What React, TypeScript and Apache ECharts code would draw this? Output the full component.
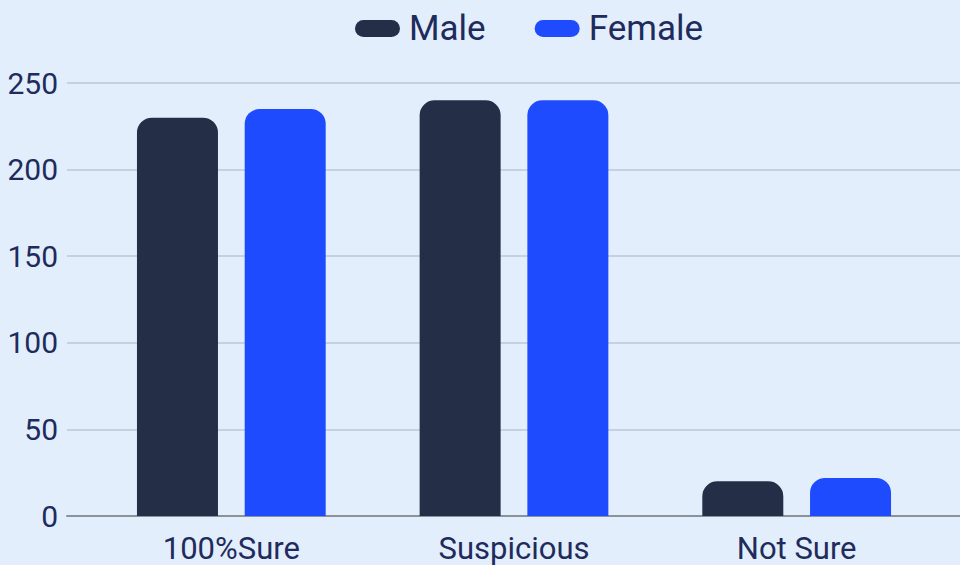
import React, { useEffect, useRef } from "react";
import * as echarts from "echarts";

const categories = ["100%Sure", "Suspicious", "Not Sure"];
const maleValues = [230, 240, 20];
const femaleValues = [235, 240, 22];
const yTicks = [0, 50, 100, 150, 200, 250];

const TEXT = "#202b5c";
const FONT = "Roboto";

export default function App() {
  const ref = useRef<HTMLDivElement>(null);
  useEffect(() => {
    if (!ref.current) return;
    const chart = echarts.init(ref.current, null, { renderer: "svg" });
    const pill = "path://M8.5,0 H36.5 A8.5,8.5 0 0 1 36.5,17 H8.5 A8.5,8.5 0 0 1 8.5,0 Z";
    chart.setOption({
      animation: false,
      backgroundColor: "#e3eefd",
      textStyle: { fontFamily: FONT },
      legend: {
        left: 350,
        top: 6,
        itemWidth: 45,
        itemHeight: 17,
        itemGap: 49,
        icon: pill,
        textStyle: { color: TEXT, fontSize: 35, fontFamily: FONT, padding: [0, 0, 0, 4] },
        data: ["Male", "Female"],
      },
      grid: [
        { left: 67, right: 0, top: 83, bottom: 49 },
        { left: 90, right: 22, top: 83, bottom: 49 },
      ],
      xAxis: [
        {
          type: "category",
          gridIndex: 0,
          data: categories,
          axisLine: { show: true, lineStyle: { color: "#8c929b", width: 2 } },
          axisTick: { show: false },
          axisLabel: { show: false },
        },
        {
          type: "category",
          gridIndex: 1,
          data: categories,
          axisLine: { show: false },
          axisTick: { show: false },
          axisLabel: { color: TEXT, fontSize: 31, lineHeight: 30, fontFamily: FONT, margin: 17 },
        },
      ],
      yAxis: [
        {
          type: "value",
          gridIndex: 0,
          min: yTicks[0],
          max: yTicks[yTicks.length - 1],
          interval: 50,
          axisLine: { show: false },
          axisTick: { show: false },
          axisLabel: { color: TEXT, fontSize: 30, fontFamily: FONT, margin: 9 },
          splitLine: { lineStyle: { color: "#c6d1de", width: 2 } },
        },
        {
          type: "value",
          gridIndex: 1,
          min: 0,
          max: 250,
          show: false,
          splitLine: { show: false },
        },
      ],
      series: [
        {
          name: "Male",
          type: "bar",
          xAxisIndex: 1,
          yAxisIndex: 1,
          data: maleValues,
          barWidth: 81,
          barGap: "33%",
          itemStyle: { color: "#242e46", borderRadius: [15, 15, 0, 0] },
        },
        {
          name: "Female",
          type: "bar",
          xAxisIndex: 1,
          yAxisIndex: 1,
          data: femaleValues,
          barWidth: 81,
          barGap: "33%",
          itemStyle: { color: "#1f4bff", borderRadius: [15, 15, 0, 0] },
        },
      ],
    });
    return () => chart.dispose();
  }, []);
  return <div ref={ref} style={{ width: 960, height: 565, position: "absolute", left: 0, top: 0 }} />;
}
